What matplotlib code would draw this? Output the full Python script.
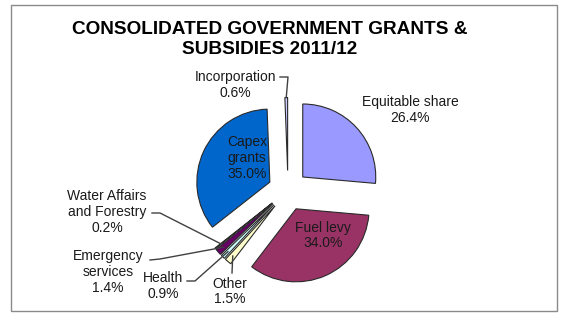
import matplotlib.pyplot as plt
import numpy as np
from matplotlib.patches import Rectangle

plt.rcParams['font.family'] = ['Liberation Sans', 'DejaVu Sans']

# data, clockwise from 12 o'clock
labels = ["Equitable share", "Fuel levy", "Other", "Health", "Emergency\nservices",
          "Water Affairs\nand Forestry", "Capex\ngrants", "Incorporation"]
shares = [26.4, 34.0, 1.5, 0.9, 1.4, 0.2, 35.0, 0.6]
colors = ["#9999FF", "#993366", "#FFFFCC", "#CCFFFF", "#660066",
          "#FF8080", "#0066CC", "#CCCCFF"]

W, H = 563, 313
fig = plt.figure(figsize=(W / 100, H / 100), dpi=100)
ax = fig.add_axes([0, 0, 1, 1])

def py(y):
    # image row -> data y
    return H - y

cx, cy, r = 288, py(190.5), 73
# explode is in data units here (axes are in pixels)
wedges, _ = ax.pie(shares, colors=colors, startangle=90, counterclock=False,
                   explode=[20] * len(shares), radius=r, center=(cx, cy),
                   wedgeprops=dict(edgecolor='#2a2a2a', linewidth=0.8),
                   frame=True)
ax.set_xlim(0, W)
ax.set_ylim(0, H)
ax.axis('off')

def tip(w, frac=0.95):
    a = np.deg2rad((w.theta1 + w.theta2) / 2)
    return w.center[0] + w.r * frac * np.cos(a), w.center[1] + w.r * frac * np.sin(a)

txt = dict(ha='center', va='center', fontsize=10, color='#1a1a1a', linespacing=1.15)

# label positions (image pixels) and leader elbows
pos = {0: (410, 110), 1: (323, 235.5), 2: (230, 291.5), 3: (163, 286),
       4: (108, 272), 5: (107, 212), 6: (247, 158), 7: (235, 85)}
for i, (lx, ly) in pos.items():
    ax.text(lx, py(ly), f"{labels[i]}\n{shares[i]:.1f}%", **txt)

leaders = {7: [(280, 77), (288, 77)], 5: [(152, 213), (160, 213)],
           4: [(150, 260), (160, 259)], 3: [(187, 281), (195, 281)],
           2: [(232, 273), (232, 273)]}
for i, pts in leaders.items():
    ex, ey = tip(wedges[i], 1.0 if i == 7 else 0.9)
    xs = [p[0] for p in pts] + [ex]
    ys = [py(p[1]) for p in pts] + [ey]
    ax.plot(xs, ys, color='#404040', lw=1)

ax.text(270, py(30), "CONSOLIDATED GOVERNMENT GRANTS &", ha='center', va='center',
        fontsize=13.7, fontweight='bold', color='black')
ax.text(270, py(50), "SUBSIDIES 2011/12", ha='center', va='center',
        fontsize=13.7, fontweight='bold', color='black')

ax.add_patch(Rectangle((11, py(311)), 546, 306, fill=False, edgecolor='#8a8a8a', lw=1))

fig.savefig("out.png", dpi=100)
